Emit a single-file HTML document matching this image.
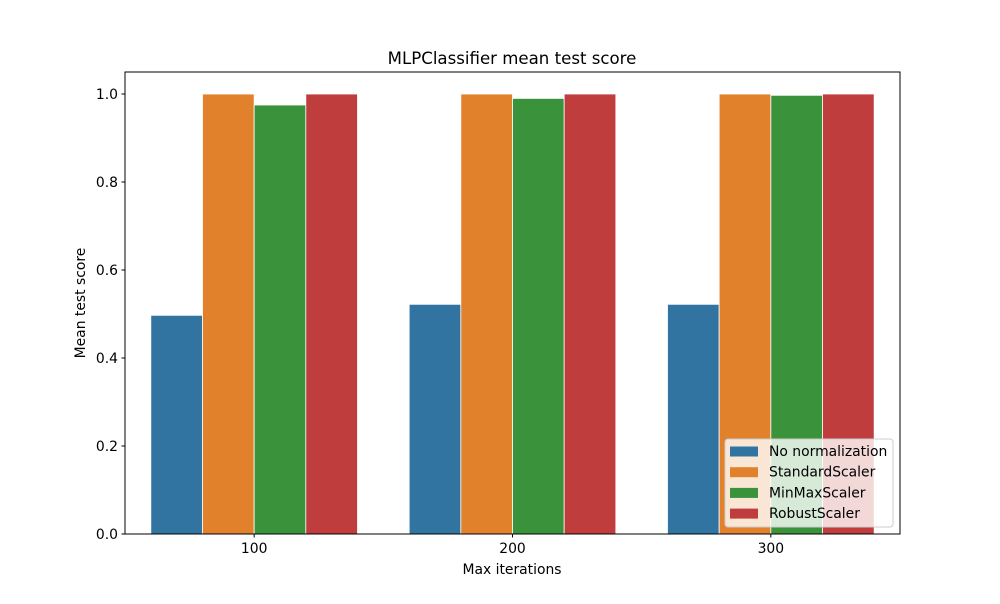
<!DOCTYPE html>
<html><head><meta charset="utf-8"><style>
body{margin:0;background:#fff;font-family:"DejaVu Sans","Liberation Sans",sans-serif}
svg text{font-family:"DejaVu Sans","Liberation Sans",sans-serif}
</style></head><body>
<svg id="c" width="1000" height="600" xmlns="http://www.w3.org/2000/svg"></svg>
<script>
const categories = ["100","200","300"];
const seriesNames = ["No normalization","StandardScaler","MinMaxScaler","RobustScaler"];
const noNorm = [0.497,0.522,0.522];
const standard = [1.0,1.0,1.0];
const minmax = [0.975,0.990,0.997];
const robust = [1.0,1.0,1.0];
const yTicks = [0.0,0.2,0.4,0.6,0.8,1.0];
const colors = ["#3274a1","#e1812c","#3a923a","#c03d3e"];
const series = [noNorm,standard,minmax,robust];

const L=125,R=900,T=72,B=534;
const yMax=1.05;
const y=v=>B-(v/yMax)*(B-T);
const band=(R-L)/categories.length;
const x=i=>L+band*(i+0.5);
const bw=band*0.8/4;
const svg=document.getElementById('c');
const NS="http://www.w3.org/2000/svg";
function mk(tag,attrs,parent){const e=document.createElementNS(NS,tag);for(const k in attrs)e.setAttribute(k,attrs[k]);(parent||svg).appendChild(e);return e;}

series.forEach((s,si)=>{
  s.forEach((v,ci)=>{
    const bx=x(ci)-band*0.4+si*bw;
    const r=mk('rect',{x:bx,y:y(v),width:bw,height:B-y(v),fill:colors[si],stroke:'#fff','stroke-width':0.8});
    
    
  });
});
mk('rect',{x:L,y:T,width:R-L,height:B-T,fill:'none',stroke:'#000','stroke-width':1});
yTicks.forEach(t=>{
  mk('line',{x1:L-3.5,x2:L,y1:y(t),y2:y(t),stroke:'#000'});
  const tx=mk('text',{x:L-7,y:y(t)+5,'text-anchor':'end','font-size':13.9});
  tx.textContent=t.toFixed(1);
  
  
});
categories.forEach((c,i)=>{
  mk('line',{x1:x(i),x2:x(i),y1:B,y2:B+3.5,stroke:'#000'});
  const tx=mk('text',{x:x(i),y:B+19,'text-anchor':'middle','font-size':13.9});
  tx.textContent=c;
  
  
});
let t1=mk('text',{x:512,y:574,'text-anchor':'middle','font-size':13.9});t1.textContent='Max iterations';


let t2=mk('text',{x:85,y:303,'text-anchor':'middle','font-size':13.9,transform:'rotate(-90 85 303)'});t2.textContent='Mean test score';


let t3=mk('text',{x:512,y:64,'text-anchor':'middle','font-size':16.6});t3.textContent='MLPClassifier mean test score';


const lg=mk('g',{});


mk('rect',{x:725,y:439,width:168,height:88,rx:3,fill:'#fff','fill-opacity':0.8,stroke:'#ccc'},lg);
seriesNames.forEach((n,i)=>{
  const yy=451+i*20.7;
  const g=mk('g',{},lg);
  
  
  mk('rect',{x:730,y:yy-4.5,width:28,height:10,fill:colors[i]},g);
  const tx=mk('text',{x:769,y:yy+5,'font-size':13.9},g);tx.textContent=n;
});
</script>
</body></html>
